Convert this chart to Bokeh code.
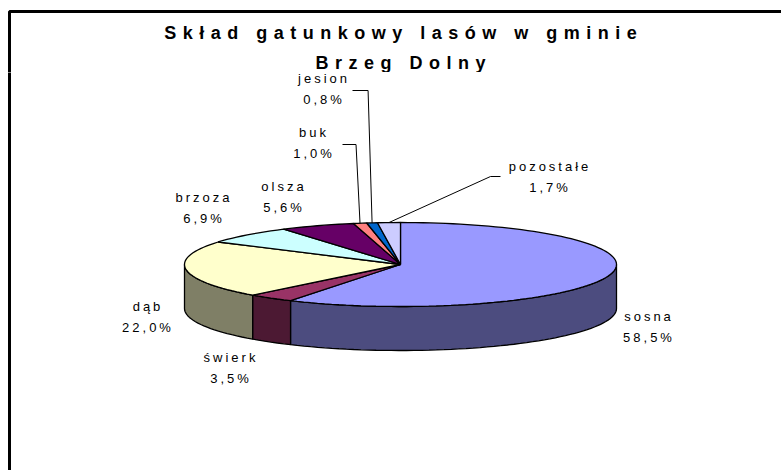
import math
from bokeh.plotting import figure
from bokeh.layouts import column
from bokeh.models import Range1d, InlineStyleSheet
from bokeh.core.properties import value
from bokeh.embed import file_html
from bokeh.resources import INLINE

# ---- data ----
species = ["sosna", "świerk", "dąb", "brzoza", "olsza", "buk", "jesion", "pozostałe"]
shares = [58.5, 3.5, 22.0, 6.9, 5.6, 1.0, 0.8, 1.7]
title_lines = ["Skład gatunkowy lasów w gminie", "Brzeg Dolny"]

# ---- style / layout (screen pixel coords) ----
top_colors = ["#9999FF", "#993366", "#FFFFCC", "#CCFFFF", "#660066", "#FF8080", "#0066CC", "#CCCCFF"]
W, H = 781, 470
TOP_H = 72
CX, CY, RX, RY, DEPTH = 400, 264, 216, 42, 44
FONT = "Liberation Sans"
LS_LABEL = 3.0
LS_TITLE = 6.5

label_pos = {
    "sosna": (647, 316),
    "świerk": (229, 357),
    "dąb": (146, 306),
    "brzoza": (202, 197),
    "olsza": (282, 186),
    "buk": (312, 132),
    "jesion": (322, 78),
    "pozostałe": (548, 166),
}
LINE_GAP = 21
leader = {"buk": "elbow", "jesion": "elbow", "pozostałe": "diag"}
title_y = [32, 62]


def shade(hexcol, f=0.5):
    r = int(hexcol[1:3], 16); g = int(hexcol[3:5], 16); b = int(hexcol[5:7], 16)
    return "#%02x%02x%02x" % (int(r * f), int(g * f), int(b * f))


def pt(theta_deg, dy=0.0):
    t = math.radians(theta_deg)
    return CX + RX * math.sin(t), CY - RY * math.cos(t) + dy


def blank(fig):
    fig.axis.visible = False
    fig.grid.visible = False
    fig.outline_line_color = None
    fig.background_fill_color = "white"
    fig.border_fill_color = "white"


# ---- title figure ----
pt_fig = figure(width=W, height=TOP_H, x_range=Range1d(0, W), y_range=Range1d(TOP_H, 0),
                output_backend="svg", toolbar_location=None, min_border=0)
blank(pt_fig)
pt_fig.stylesheets = [InlineStyleSheet(css=":host { letter-spacing: %.1fpx; }" % LS_TITLE)]
for t, ty in zip(title_lines, title_y):
    pt_fig.text([CX - (len(t) - 1) * LS_TITLE / 2], [ty], text=[t], text_font=value(FONT),
                text_font_size="18px", text_font_style="bold", text_align="center",
                text_baseline="middle", text_color="black")
pt_fig.line([9, 9, W + 10], [TOP_H + 5, 11, 11], line_color="black", line_width=3)

# ---- pie figure ----
p = figure(width=W, height=H - TOP_H, x_range=Range1d(0, W), y_range=Range1d(H, TOP_H),
           output_backend="svg", toolbar_location=None, min_border=0)
blank(p)
p.stylesheets = [InlineStyleSheet(css=":host { letter-spacing: %.1fpx; }" % LS_LABEL)]

total = sum(shares)
angles = []
acc = 0.0
for s in shares:
    a = acc / total * 360.0
    acc += s
    b = acc / total * 360.0
    angles.append((a, b))

# side walls (front half: 90..270 deg clockwise from top)
side_xs, side_ys, side_cols = [], [], []
for (a, b), col in zip(angles, top_colors):
    lo, hi = max(a, 90.0), min(b, 270.0)
    if hi <= lo:
        continue
    n = max(4, int((hi - lo) / 2))
    ts = [lo + (hi - lo) * i / n for i in range(n + 1)]
    pts = [pt(t) for t in ts] + [pt(t, DEPTH) for t in reversed(ts)]
    side_xs.append([q[0] for q in pts]); side_ys.append([q[1] for q in pts])
    side_cols.append(shade(col))
p.patches(side_xs, side_ys, fill_color=side_cols, line_color="black", line_width=1.3)

# top faces
top_xs, top_ys = [], []
for (a, b) in angles:
    n = max(3, int((b - a) / 2))
    ts = [a + (b - a) * i / n for i in range(n + 1)]
    pts = [(CX, CY)] + [pt(t) for t in ts]
    top_xs.append([q[0] for q in pts]); top_ys.append([q[1] for q in pts])
p.patches(top_xs, top_ys, fill_color=top_colors, line_color="black", line_width=1.3)

# labels and leader lines
for name, s, (a, b) in zip(species, shares, angles):
    lx, ly = label_pos[name]
    pct = ("%.1f" % s).replace(".", ",") + "%"
    for txt, yy in ((name, ly), (pct, ly + LINE_GAP)):
        p.text([lx - (len(txt) - 1) * LS_LABEL / 2], [yy], text=[txt], text_font=value(FONT),
               text_font_size="13px", text_align="center", text_baseline="middle",
               text_color="black")
    ex, ey = pt((a + b) / 2)
    if leader.get(name) == "elbow":
        x0, y0 = lx + 30, ly + 12
        p.line([x0, ex - 4, ex], [y0, y0, ey], line_color="black", line_width=1)
    elif leader.get(name) == "diag":
        x0, y0 = lx - 58, ly + 10
        p.line([x0 + 10, x0, ex], [y0, y0, ey], line_color="black", line_width=1)

# frame: left edge
p.line([9, 9], [TOP_H - 2, H + 10], line_color="black", line_width=3)

open("out.html", "w").write(file_html(column(pt_fig, p, spacing=0), INLINE))
